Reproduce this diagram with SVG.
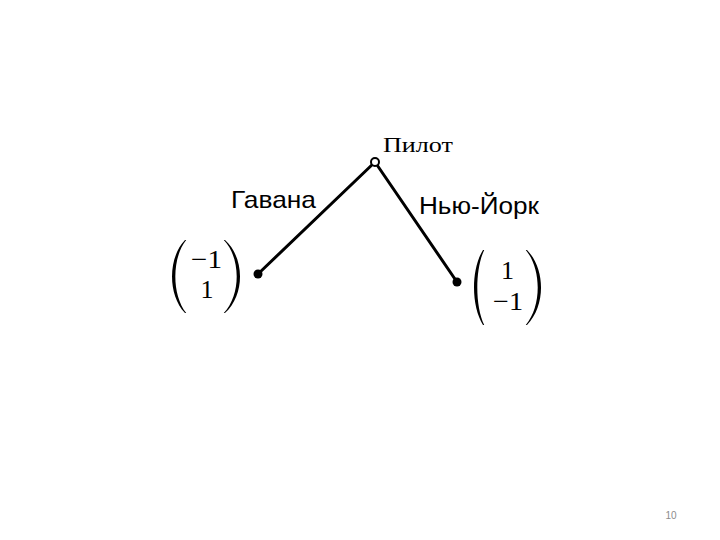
<svg xmlns="http://www.w3.org/2000/svg" width="720" height="540" viewBox="0 0 720 540">
<style>
.edge{stroke:#000;stroke-width:3;fill:none;stroke-linecap:round}
.serif{font-family:"Liberation Serif","DejaVu Serif",serif;fill:#000}
.num{font-family:"Liberation Serif","DejaVu Serif",serif;fill:#000;font-size:26px}
.sans{font-family:"Liberation Sans",Arial,sans-serif;fill:#000}
.paren{fill:#000}
.leaf{fill:#000}
</style>
<rect width="720" height="540" fill="#fff"/>
<g id="connectors">
<line class="edge" x1="375" y1="162" x2="258" y2="274"/>
<line class="edge" x1="375" y1="162" x2="457" y2="282"/>
</g>
<g id="root">
<circle cx="375" cy="162" r="4" fill="#fff" stroke="#000" stroke-width="2"/>
<text class="serif" x="383" y="152" font-size="22" textLength="70" lengthAdjust="spacingAndGlyphs">Пилот</text>
</g>
<g id="leaf-havana">
<circle class="leaf" cx="258" cy="274" r="4.5"/>
<text class="sans" x="231" y="208" font-size="24" textLength="85" lengthAdjust="spacingAndGlyphs">Гавана</text>
<path class="paren" d="M185,240 C167.7,258 167.7,295 185,313 L186.2,313 C171.7,295 171.7,258 186.2,240 Z"/>
<path class="paren" d="M225,240 C245,258 245,295 225,313 L223.8,313 C241,295 241,258 223.8,240 Z"/>
<text class="num" x="222" y="268" text-anchor="end" textLength="31" lengthAdjust="spacingAndGlyphs">−1</text>
<text class="num" x="207" y="298" text-anchor="middle">1</text>
</g>
<g id="leaf-newyork">
<circle class="leaf" cx="457" cy="282" r="4.5"/>
<text class="sans" x="419" y="214" font-size="23" textLength="120" lengthAdjust="spacingAndGlyphs">Нью-Йорк</text>
<path class="paren" d="M483,250 C471,269 471,306 483,325 L484.2,325 C475,306 475,269 484.2,250 Z"/>
<path class="paren" d="M527,250 C545.7,269 545.7,306 527,325 L525.8,325 C541.7,306 541.7,269 525.8,250 Z"/>
<text class="num" x="507.5" y="279" text-anchor="middle">1</text>
<text class="num" x="523" y="310" text-anchor="end" textLength="30" lengthAdjust="spacingAndGlyphs">−1</text>
</g>
<text x="671" y="519" font-size="10" fill="#8c8c8c" text-anchor="middle" font-family="'Liberation Sans',Arial,sans-serif">10</text>
</svg>
